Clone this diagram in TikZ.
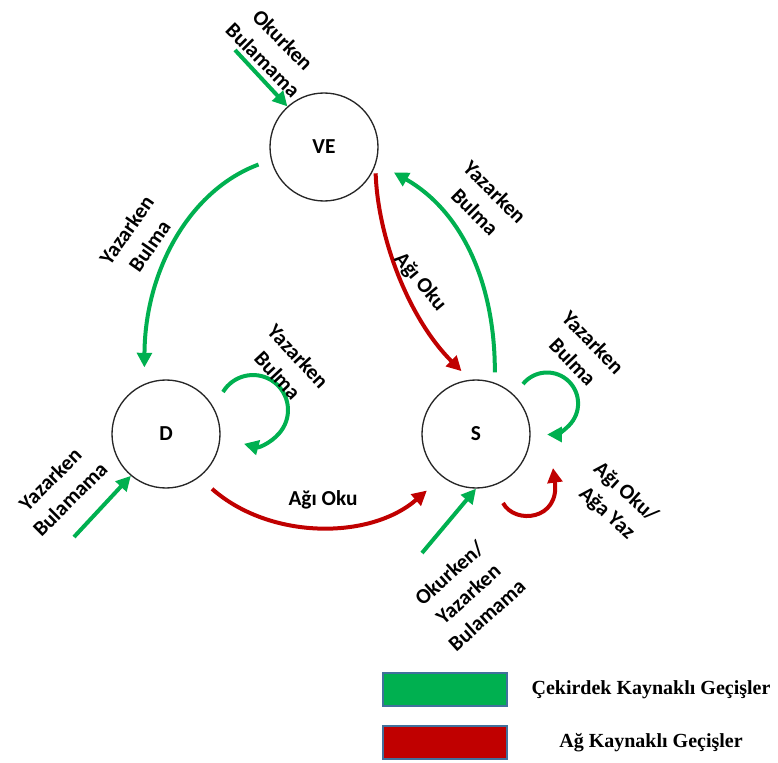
\documentclass[tikz,border=0pt]{standalone}
\usepackage{fontspec}
\setmainfont{Carlito}
\newfontfamily\legendfont{Liberation Serif}
\usetikzlibrary{arrows.meta,calc}
\definecolor{kgreen}{RGB}{0,176,80}
\definecolor{nred}{RGB}{192,0,0}
\definecolor{legendedge}{RGB}{65,113,156}

\begin{document}
\begin{tikzpicture}[x=0.75pt,y=-0.75pt,
  state/.style={circle,draw=black!85,line width=1pt,minimum size=81pt,inner sep=0pt,
    font=\bfseries\fontsize{16}{19}\selectfont},
  lbl/.style={font=\bfseries\fontsize{16}{21}\selectfont,align=center,inner sep=0pt},
  kern/.style={draw=kgreen,line width=3pt,-{Triangle[length=11pt,width=11pt]}},
  net/.style={draw=nred,line width=3pt,-{Triangle[length=11pt,width=11pt]}},
  legbox/.style={draw=legendedge,line width=0.8pt,minimum width=93pt,minimum height=24.75pt,inner sep=0pt},
  legtext/.style={font=\legendfont\bfseries\fontsize{15}{17}\selectfont,inner sep=0pt}
]
\useasboundingbox (0,0) rectangle (778,763);

% states
\node[state] (ve) at (324,147) {VE};
\node[state] (d)  at (166,434) {D};
\node[state] (s)  at (476,434) {S};

% end points of the curved transitions, kept a little off the circles
\coordinate (veD0) at ($(ve.center)!1.24!(ve.195)$);
\coordinate (veD1) at ($(d.center)!1.28!(d.108)$);
\coordinate (veS0) at ($(ve.center)!1.06!(ve.-27)$);
\coordinate (veS1) at ($(s.center)!1.18!(s.103)$);
\coordinate (sVe0) at ($(s.center)!1.18!(s.73)$);
\coordinate (sVe1) at ($(ve.center)!1.36!(ve.-20)$);
\coordinate (dS0)  at ($(d.center)!1.31!(d.-50)$);
\coordinate (dS1)  at ($(s.center)!1.37!(s.-131)$);

% outside entries and self loops
\coordinate (veIn) at (235,50);
\coordinate (dIn)  at (74,537);
\coordinate (sIn)  at (422,553);
\coordinate (dLoop) at (223,392);
\coordinate (sLoop) at (523,384);
\coordinate (sNet0) at (503,503);
\coordinate (sNet1) at (553,468);

% kernel-driven transitions
\draw[kern] (veD0) .. controls (190,190) and (145,270) .. (veD1);
\draw[kern] (sVe0) .. controls (495,280) and (460,210) .. (sVe1);
\draw[kern] (veIn) -- (ve.132);
\draw[kern] (dIn) -- (d.-130);
\draw[kern] (sIn) -- (s.-90);
\draw[kern] (dLoop) arc[start angle=-149,end angle=105,radius=35];
\draw[kern] (sLoop) arc[start angle=-141,end angle=90,radius=31];

% network-driven transitions
\draw[net] (veS0) .. controls (378,240) and (410,320) .. (veS1);
\draw[net] (dS0) .. controls (270,540) and (370,540) .. (dS1);
\draw[net] (sNet0) .. controls (515,525) and (560,520) .. (sNet1);

% labels
\node[lbl,rotate=-45] (tOk)   at (273,50)  {Okurken\\Bulamama};
\node[lbl,rotate=55]  (tVeD)  at (138,238) {Yazarken\\Bulma};
\node[lbl,rotate=-50] (tVeS)  at (420,282) {Ağı Oku};
\node[lbl,rotate=-45] (tSVe)  at (485,202) {Yazarken\\Bulma};
\node[lbl,rotate=-47] (tDL)   at (288,366) {Yazarken\\Bulma};
\node[lbl,rotate=-46] (tSL)   at (583,352) {Yazarken\\Bulma};
\node[lbl,rotate=-42] (tSN)   at (616,503) {Ağı Oku/\\Ağa Yaz};
\node[lbl]            (tDS)   at (323,500) {Ağı Oku};
\node[lbl,rotate=45]  (tDIn)  at (60,489)  {Yazarken\\Bulamama};
\node[lbl,rotate=42]  (tSIn)  at (468,594) {Okurken/\\Yazarken\\Bulamama};

% legend
\node[legbox,fill=kgreen] (legK) at (445,689.5) {};
\node[legbox,fill=nred]   (legN) at (445,742.5) {};
\node[legtext] (legKt) at (651,690) {Çekirdek Kaynaklı Geçişler};
\node[legtext] (legNt) at (651,743) {Ağ Kaynaklı Geçişler};
\end{tikzpicture}
\end{document}
